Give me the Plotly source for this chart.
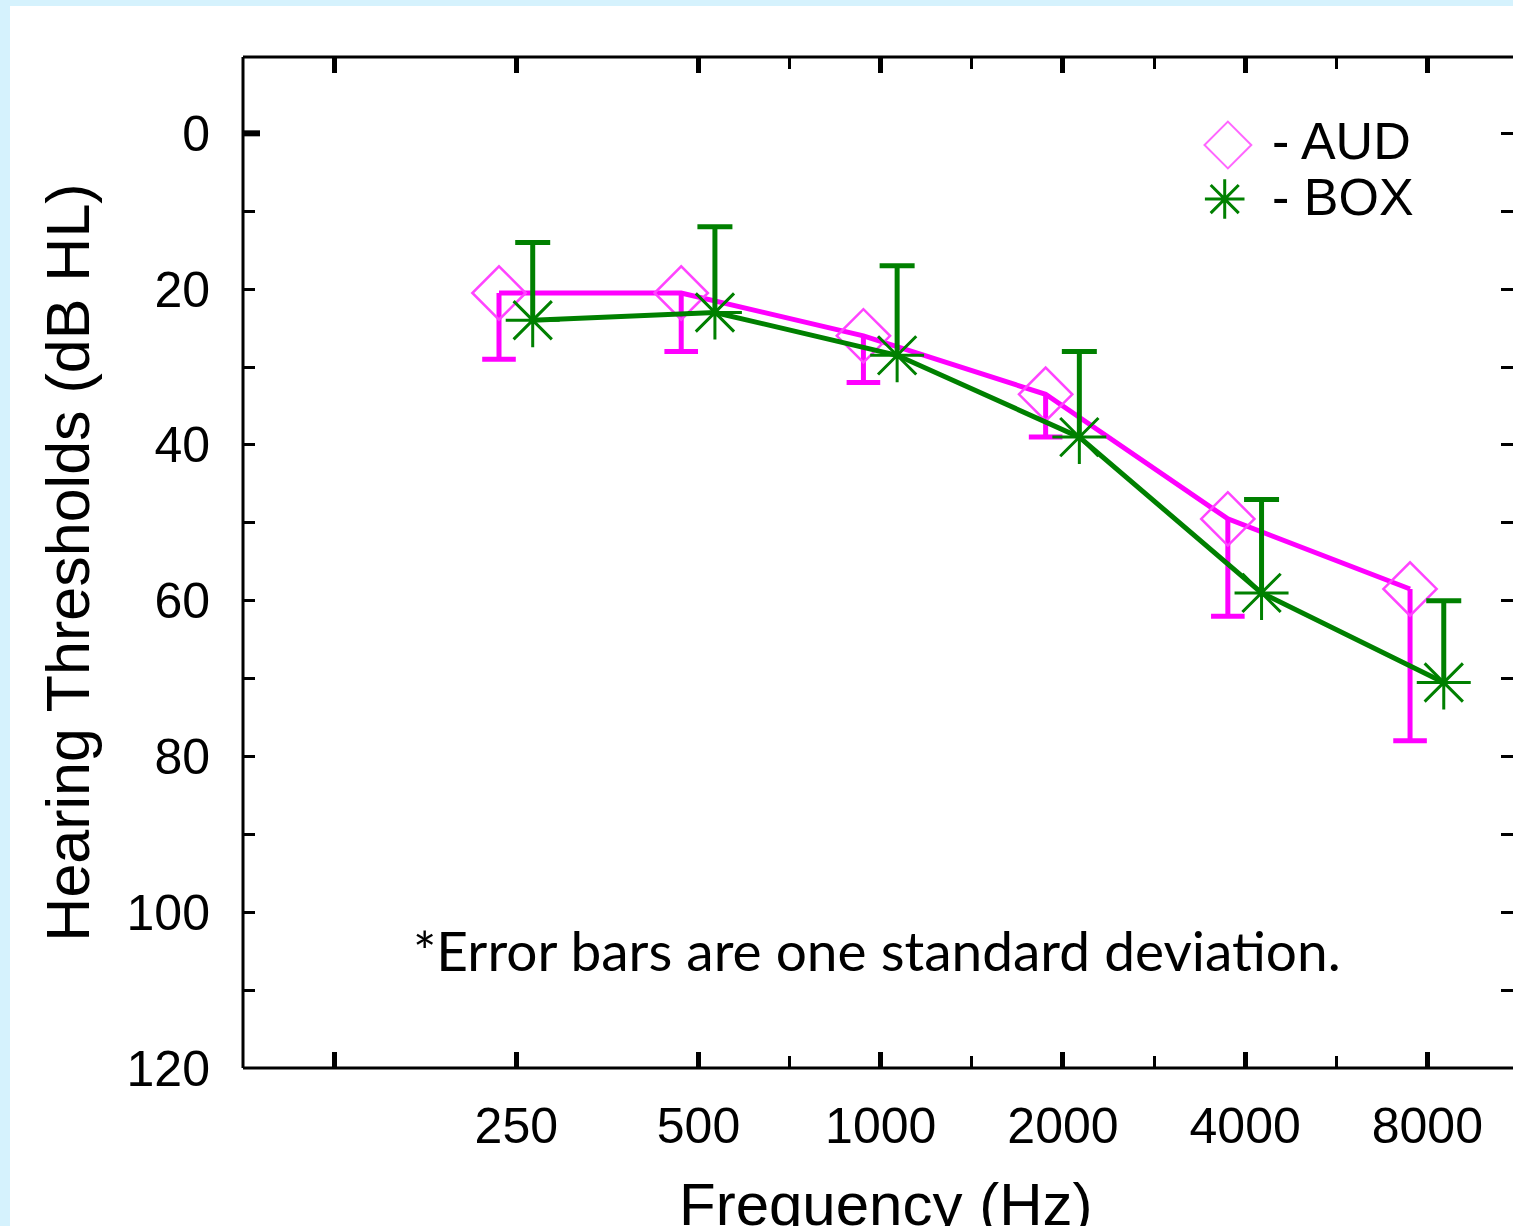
import plotly.graph_objects as go

# ---- data ----
freqs = ["250", "500", "1000", "2000", "4000", "8000"]
aud = [20.5, 20.5, 26, 33.5, 49.5, 58.5]          # AUD thresholds (dB HL)
aud_sd = [8.5, 7.5, 6, 5.5, 12.5, 19.5]           # one SD (drawn downward)
box = [24, 23, 28.5, 39, 59, 70.5]                # BOX thresholds (dB HL)
box_sd = [10, 11, 11.5, 11, 12, 10.5]             # one SD (drawn upward)
y_ticks = [0, 20, 40, 60, 80, 100, 120]

MAG = "#ff00ff"
GRN = "#008000"
AUD_OFF, BOX_OFF = -0.095, 0.09

idx = list(range(1, len(freqs) + 1))
x_aud = [i + AUD_OFF for i in idx]
x_box = [i + BOX_OFF for i in idx]


def err_path(xs, ys, sds, sign):
    px, py, cx, cy = [], [], [], []
    for x, y, s in zip(xs, ys, sds):
        end = y + sign * s
        px += [x, x, None]
        py += [y, end, None]
        cx.append(x)
        cy.append(end)
    return px, py, cx, cy


fig = go.Figure()

# AUD
ex, ey, cx, cy = err_path(x_aud, aud, aud_sd, +1)
fig.add_trace(go.Scatter(x=x_aud, y=aud, mode="lines", line=dict(color=MAG, width=5),
                         showlegend=False, hoverinfo="skip"))
fig.add_trace(go.Scatter(x=ex, y=ey, mode="lines", line=dict(color=MAG, width=5),
                         showlegend=False, hoverinfo="skip"))
fig.add_trace(go.Scatter(x=cx, y=cy, mode="markers",
                         marker=dict(symbol="line-ew", size=24, color=MAG,
                                     line=dict(color=MAG, width=5)),
                         showlegend=False, hoverinfo="skip"))
fig.add_trace(go.Scatter(x=x_aud, y=aud, mode="markers", name="AUD",
                         marker=dict(symbol="diamond-open", size=41, color="#ff44ff",
                                     line=dict(color="#ff44ff", width=2.5)),
                         showlegend=False))

# BOX
ex, ey, cx, cy = err_path(x_box, box, box_sd, -1)
fig.add_trace(go.Scatter(x=x_box, y=box, mode="lines", line=dict(color=GRN, width=5),
                         showlegend=False, hoverinfo="skip"))
fig.add_trace(go.Scatter(x=ex, y=ey, mode="lines", line=dict(color=GRN, width=5),
                         showlegend=False, hoverinfo="skip"))
fig.add_trace(go.Scatter(x=cx, y=cy, mode="markers",
                         marker=dict(symbol="line-ew", size=25, color=GRN,
                                     line=dict(color=GRN, width=5)),
                         showlegend=False, hoverinfo="skip"))
fig.add_trace(go.Scatter(x=x_box, y=box, mode="markers", name="BOX",
                         marker=dict(symbol="asterisk-open", size=45, color=GRN,
                                     line=dict(color=GRN, width=3)),
                         showlegend=False))

# legend symbols on an overlay unit axis
fig.add_trace(go.Scatter(x=[0.7755], y=[0.9129], xaxis="x2", yaxis="y2", mode="markers",
                         marker=dict(symbol="diamond-open", size=36, color="#ff66ff",
                                     line=dict(color="#ff66ff", width=2)),
                         showlegend=False, hoverinfo="skip"))
fig.add_trace(go.Scatter(x=[0.7730], y=[0.8595], xaxis="x2", yaxis="y2", mode="markers",
                         marker=dict(symbol="asterisk-open", size=33, color=GRN,
                                     line=dict(color=GRN, width=3)),
                         showlegend=False, hoverinfo="skip"))

FONT = "Liberation Sans, Arial, sans-serif"
PX = lambda p: (p - 243) / 1270      # pixel -> paper x
PY = lambda q: (1068 - q) / 1011     # pixel -> paper y

fig.update_layout(
    width=1513, height=1226,
    margin=dict(l=243, r=0, t=57, b=158),
    paper_bgcolor="#d5f2fd",
    plot_bgcolor="white",
    font=dict(family=FONT, size=50, color="black"),
    xaxis=dict(
        range=[-0.5, 6.47],
        tickmode="array", tickvals=[0] + idx, ticktext=[""] + freqs,
        ticks="inside", ticklen=16, tickwidth=5, tickcolor="black",
        minor=dict(tickmode="array", tickvals=[2.5, 3.5, 4.5, 5.5], ticks="inside",
                   ticklen=12, tickwidth=3, tickcolor="black"),
        showline=False, mirror="ticks",
        showgrid=False, zeroline=False,
        tickfont=dict(size=50), ticklabelstandoff=24,
    ),
    yaxis=dict(
        range=[120, -9.8],
        tickmode="array", tickvals=y_ticks,
        ticks="inside", ticklen=12, tickwidth=3, tickcolor="black",
        minor=dict(dtick=10, tick0=0, ticks="inside", ticklen=12, tickwidth=3, tickcolor="black"),
        showline=False, mirror="ticks",
        showgrid=False, zeroline=False,
        tickfont=dict(size=50), ticklabelstandoff=32,
        title=dict(text="Hearing Thresholds (dB HL)", font=dict(size=61), standoff=17),
    ),
    xaxis2=dict(overlaying="x", range=[0, 1], visible=False, fixedrange=True),
    yaxis2=dict(overlaying="y", range=[0, 1], visible=False, fixedrange=True),
    showlegend=False,
    shapes=[
        dict(type="rect", xref="paper", yref="paper", layer="below",
             x0=PX(10), x1=1.2, y0=-0.5, y1=PY(6),
             fillcolor="white", line=dict(width=0)),
        # frame: left, bottom, top (right side lies beyond the picture)
        dict(type="line", xref="paper", yref="paper", x0=0, x1=0, y0=0, y1=1,
             line=dict(color="black", width=3)),
        dict(type="line", xref="paper", yref="paper", x0=0, x1=1.05, y0=0, y1=0,
             line=dict(color="black", width=3)),
        dict(type="line", xref="paper", yref="paper", x0=0, x1=1.05, y0=1, y1=1,
             line=dict(color="black", width=3)),
        # bold tick at 0 dB
        dict(type="line", xref="paper", yref="y", x0=0, x1=PX(260), y0=0, y1=0,
             line=dict(color="black", width=6)),
    ],
    annotations=[
        dict(text="Frequency (Hz)", xref="paper", yref="paper", x=PX(885), y=PY(1204),
             xanchor="center", yanchor="middle", showarrow=False, font=dict(size=60)),
        dict(text="- AUD", xref="paper", yref="paper", x=PX(1270), y=PY(141),
             xanchor="left", yanchor="middle", showarrow=False, font=dict(size=52)),
        dict(text="- BOX", xref="paper", yref="paper", x=PX(1270), y=PY(197),
             xanchor="left", yanchor="middle", showarrow=False, font=dict(size=52)),
        dict(text="*Error bars are one standard deviation.", xref="paper", yref="paper",
             x=PX(411), y=PY(950), xanchor="left", yanchor="middle",
             showarrow=False, font=dict(family="Lato, Carlito, Calibri, sans-serif", size=55)),
    ],
)

fig.write_html("out.html", config={"displayModeBar": False},
               post_script="document.body.style.margin='0';document.body.style.overflow='hidden';")
